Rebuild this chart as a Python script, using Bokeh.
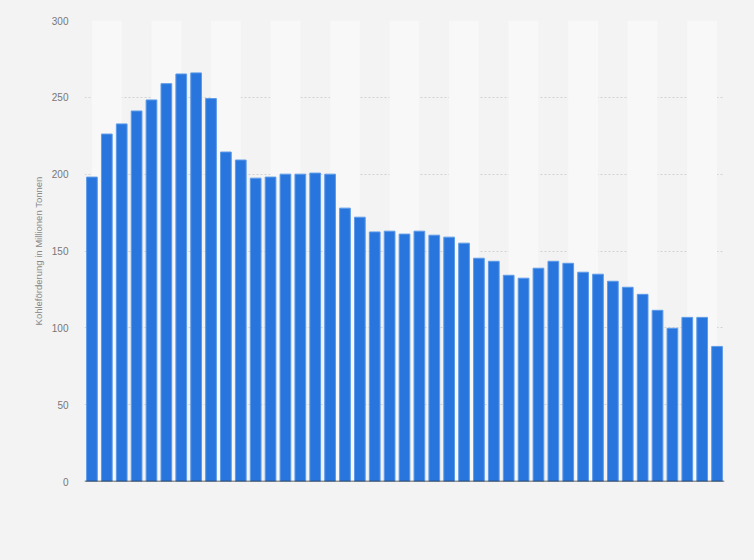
from bokeh.plotting import figure
from bokeh.models import FactorRange, Range1d, BoxAnnotation, Span
from bokeh.embed import file_html
from bokeh.resources import INLINE

years = [str(y) for y in range(1978, 2021)]
production = [198.1, 226.1, 232.7, 241.1, 248.3, 258.9, 265.2, 265.9, 249.2, 214.4,
              209.2, 197.4, 198.1, 200.0, 200.0, 200.7, 200.0, 177.9, 172.0, 162.4,
              162.9, 161.0, 162.9, 160.3, 159.0, 155.1, 145.3, 143.3, 134.2, 132.3,
              138.8, 143.3, 142.0, 136.2, 134.9, 130.3, 126.4, 121.8, 111.4, 99.7,
              106.8, 106.8, 87.9]
y_ticks = [0, 50, 100, 150, 200, 250, 300]
y_title = "Kohleförderung in Millionen Tonnen"

BG = "#f3f3f3"
p = figure(x_range=FactorRange(factors=years, range_padding=0),
           y_range=Range1d(0, 300),
           width=744, height=552, output_backend="svg", toolbar_location=None,
           min_border_left=84, min_border_right=20, min_border_top=20, min_border_bottom=71)
p.background_fill_color = BG
p.border_fill_color = BG
p.outline_line_color = None

# alternating light bands (synthetic coordinates on the categorical range)
for k in range(0, len(years) - 2, 4):
    p.add_layout(BoxAnnotation(left=k + 0.5, right=k + 2.5, fill_color="#f8f8f8",
                               fill_alpha=1, line_color=None, level="underlay"))

p.vbar(x=years, top=production, width=0.72, fill_color="#2876dd",
       line_color="#5d9be8", line_width=1)

p.xaxis.visible = False
p.xgrid.grid_line_color = None

p.yaxis.ticker = y_ticks
p.yaxis.axis_line_color = None
p.yaxis.major_tick_line_color = None
p.yaxis.minor_tick_line_color = None
p.yaxis.major_label_text_font = "Liberation Sans"
p.yaxis.major_label_text_font_size = "10px"
p.yaxis.major_label_text_color = "#777777"
p.yaxis.major_label_standoff = 10
p.yaxis.axis_label = y_title
p.yaxis.axis_label_text_font = "Liberation Sans"
p.yaxis.axis_label_text_font_size = "9.5px"
p.yaxis.axis_label_text_font_style = "normal"
p.yaxis.axis_label_text_color = "#888888"
p.yaxis.axis_label_standoff = 5

p.ygrid.grid_line_color = "#d2d2d2"
p.ygrid.grid_line_dash = "2 2"
p.ygrid.grid_line_width = 1

p.add_layout(Span(location=0, dimension="width", line_color="#333333", line_width=1.5))

html = file_html(p, INLINE)
html = html.replace("<head>", "<head><style>html,body{background:%s;}</style>" % BG, 1)
open("out.html", "w").write(html)
